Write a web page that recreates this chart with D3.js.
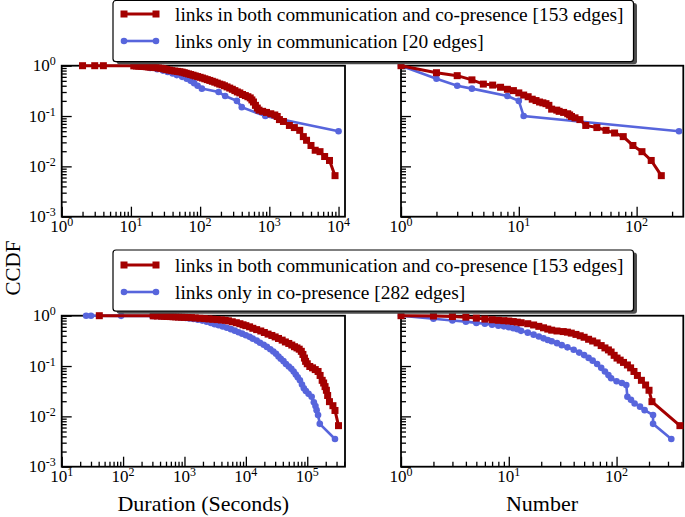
<!DOCTYPE html>
<html><head><meta charset="utf-8">
<script src="https://cdn.jsdelivr.net/npm/d3@7"></script>
<style>
body{margin:0;background:#fff}
svg{display:block}
text{font-family:"Liberation Serif","Times New Roman",serif;fill:#000}
</style>
</head><body>
<svg id="c" width="685" height="517" font-family="Liberation Serif, Times New Roman, serif"></svg>
<script>
// ---------- data (x, CCDF) ----------
const commDurBoth = [[2,1],[3,1],[4,1],[11,0.993],[12,0.987],[13,0.98],[14,0.974],[15,0.967],[16,0.961],[17,0.954],[18,0.948],[19,0.941],[21,0.928],[23,0.915],[25,0.902],[27,0.889],[29,0.876],[31,0.856],[33,0.837],[36,0.817],[39,0.797],[43,0.784],[47,0.771],[51,0.758],[55,0.745],[59,0.725],[63,0.706],[68,0.686],[73,0.667],[79,0.647],[85,0.627],[92,0.608],[100,0.588],[108,0.569],[117,0.549],[127,0.529],[138,0.51],[150,0.49],[163,0.471],[177,0.451],[192,0.431],[208,0.418],[225,0.399],[245,0.379],[268,0.359],[292,0.34],[318,0.32],[345,0.301],[375,0.288],[410,0.268],[450,0.255],[490,0.242],[530,0.229],[560,0.209],[590,0.19],[630,0.163],[670,0.144],[710,0.131],[800,0.124],[910,0.118],[1050,0.111],[1200,0.105],[1300,0.098],[1400,0.085],[1600,0.078],[1950,0.065],[2300,0.059],[2750,0.052],[3100,0.039],[3450,0.033],[4000,0.026],[4600,0.0209],[5400,0.0196],[6300,0.0157],[7400,0.0131],[8900,0.00654]];
const commDurOnly = [[12,1],[15,0.95],[19,0.9],[24,0.85],[29,0.8],[34,0.75],[40,0.7],[46,0.65],[55,0.6],[64,0.55],[73,0.5],[82,0.45],[92,0.4],[106,0.35],[185,0.3],[230,0.25],[340,0.2],[400,0.15],[875,0.1],[10000,0.05]];
const commNumBoth = [[1,1],[2,0.725],[3,0.634],[4,0.523],[5,0.431],[6,0.412],[7,0.373],[8,0.34],[9,0.32],[10,0.288],[11,0.261],[12,0.242],[13,0.216],[14,0.203],[15,0.19],[16,0.183],[17,0.176],[18,0.163],[19,0.137],[21,0.131],[22,0.124],[24,0.118],[26,0.111],[27,0.105],[28,0.098],[30,0.092],[33,0.085],[37,0.065],[46,0.059],[55,0.052],[65,0.046],[77,0.039],[93,0.026],[111,0.0196],[133,0.0131],[162,0.00654]];
const commNumOnly = [[1,1],[2,0.55],[3,0.4],[4,0.35],[8,0.25],[10,0.2],[11,0.1],[229,0.05]];
const copDurBoth = [[41,1],[310,0.993],[360,0.987],[425,0.98],[470,0.974],[520,0.967],[590,0.961],[650,0.954],[720,0.948],[800,0.941],[900,0.935],[1000,0.928],[1150,0.922],[1300,0.915],[1500,0.902],[1780,0.889],[2100,0.876],[2500,0.863],[2900,0.85],[3400,0.837],[4000,0.824],[4600,0.81],[5200,0.791],[6000,0.758],[7000,0.725],[8000,0.693],[9000,0.66],[10000,0.634],[11500,0.601],[13000,0.562],[15000,0.529],[17500,0.497],[20000,0.464],[23000,0.431],[26500,0.405],[30000,0.379],[34000,0.353],[39000,0.327],[44000,0.301],[50000,0.281],[56000,0.261],[62000,0.242],[68000,0.229],[74000,0.216],[80000,0.196],[85000,0.17],[90000,0.144],[94000,0.124],[100000,0.111],[110000,0.098],[122000,0.092],[135000,0.085],[150000,0.078],[162000,0.065],[175000,0.052],[185000,0.046],[195000,0.039],[205000,0.033],[215000,0.026],[230000,0.0196],[262000,0.0163],[283000,0.0131],[323000,0.00654]];
const copDurOnly = [[25,1],[30,0.996],[93,0.993],[300,0.989],[330,0.986],[380,0.982],[420,0.979],[470,0.975],[520,0.972],[580,0.965],[650,0.955],[730,0.945],[820,0.93],[920,0.915],[1050,0.9],[1200,0.88],[1400,0.86],[1650,0.83],[1950,0.8],[2300,0.76],[2700,0.72],[3100,0.68],[3600,0.645],[4200,0.61],[4900,0.575],[5700,0.54],[6600,0.505],[7600,0.47],[8700,0.44],[10000,0.41],[11500,0.38],[13000,0.35],[15000,0.32],[17000,0.29],[19500,0.265],[22000,0.24],[25000,0.215],[28000,0.195],[31000,0.175],[34000,0.155],[37000,0.14],[41000,0.125],[45000,0.11],[50000,0.098],[55000,0.088],[60000,0.078],[65000,0.068],[70000,0.06],[76000,0.052],[82000,0.043],[88000,0.036],[95000,0.032],[105000,0.028],[118000,0.0245],[128000,0.019],[136000,0.016],[142000,0.0133],[150000,0.0106],[160000,0.0071],[283000,0.00355]];
const copNumBoth = [[1,1],[2,0.987],[3,0.961],[4,0.935],[5,0.895],[6,0.856],[7,0.83],[8,0.81],[9,0.797],[10,0.784],[11,0.765],[12,0.745],[13,0.725],[15,0.693],[17,0.654],[19,0.614],[21,0.575],[23,0.542],[25,0.516],[28,0.497],[32,0.484],[35,0.471],[38,0.451],[42,0.425],[46,0.399],[50,0.373],[55,0.34],[60,0.314],[66,0.288],[72,0.255],[78,0.229],[84,0.209],[89,0.19],[95,0.163],[101,0.144],[108,0.131],[116,0.118],[126,0.105],[135,0.092],[145,0.078],[156,0.065],[170,0.052],[186,0.042],[200,0.033],[213,0.0196],[387,0.00654]];
const copNumOnly = [[1,1],[2,0.872],[3,0.805],[4,0.762],[5,0.72],[6,0.69],[7,0.66],[8,0.635],[9,0.615],[10,0.59],[11,0.565],[12,0.54],[13,0.5],[15,0.46],[17,0.42],[19,0.385],[21,0.355],[23,0.33],[25,0.31],[28,0.285],[31,0.26],[35,0.235],[40,0.21],[45,0.185],[50,0.165],[55,0.145],[60,0.128],[66,0.11],[72,0.092],[78,0.078],[84,0.066],[89,0.057],[100,0.05],[112,0.046],[123,0.042],[126,0.0245],[136,0.0213],[147,0.018],[165,0.0156],[182,0.0133],[218,0.0106],[218,0.0071],[322,0.00355]];

const legendCommLabels = ["links in both communication and co-presence [153 edges]", "links only in communication [20 edges]"];
const legendCopLabels = ["links in both communication and co-presence [153 edges]", "links only in co-presence [282 edges]"];
const xAxisTitles = ["Duration (Seconds)", "Number"];
const yAxisTitle = "CCDF";
const yTickExps = [0, -1, -2, -3];
const xTickExpsDurComm = [0, 1, 2, 3, 4];
const xTickExpsNumComm = [0, 1, 2];
const xTickExpsDurCop = [1, 2, 3, 4, 5];
const xTickExpsNumCop = [0, 1, 2];
const xDomDurComm = [1, 12400];
const xDomNumComm = [1, 249];
const xDomDurCop = [10, 412000];
const xDomNumCop = [1, 416];
const yDom = [0.001, 1];

// ---------- styling ----------
const RED = "#a40000", BLUE = "#5765dc";
const svg = d3.select("#c");

const panels = [
  {l:61.7, r:345,   t:65.7,  b:216.7, xd:xDomDurComm, xe:xTickExpsDurComm, both:commDurBoth, only:commDurOnly, ylab:true},
  {l:401,  r:683.3, t:65.7,  b:216.7, xd:xDomNumComm, xe:xTickExpsNumComm, both:commNumBoth, only:commNumOnly, ylab:false},
  {l:61.7, r:345,   t:315.7, b:466.7, xd:xDomDurCop,  xe:xTickExpsDurCop,  both:copDurBoth,  only:copDurOnly,  ylab:true},
  {l:401,  r:683.3, t:315.7, b:466.7, xd:xDomNumCop,  xe:xTickExpsNumCop,  both:copNumBoth,  only:copNumOnly,  ylab:false}
];

function minorTicks(dom){
  const out=[];
  const lo=Math.floor(Math.log10(dom[0])), hi=Math.ceil(Math.log10(dom[1]));
  for(let e=lo;e<=hi;e++) for(let m=2;m<=9;m++){const v=m*Math.pow(10,e); if(v>dom[0]&&v<dom[1]) out.push(v);}
  return out;
}

function powLabel(g, x, y, exp, anchor){
  const t = g.append("text").attr("x", x).attr("y", y).attr("text-anchor", anchor).attr("font-size", 17);
  t.append("tspan").text("10");
  t.append("tspan").attr("dy", -6).attr("font-size", 12).text(String(exp));
}

const SQ = 7;
panels.forEach(p => {
  const x = d3.scaleLog().domain(p.xd).range([p.l, p.r]);
  const y = d3.scaleLog().domain(yDom).range([p.b, p.t]);
  const g = svg.append("g");

  // ticks (inward)
  const xMaj = p.xe.map(e => Math.pow(10, e));
  const yMaj = yTickExps.map(e => Math.pow(10, e));
  const gx = g.append("g").attr("transform", `translate(0,${p.b})`);
  gx.call(d3.axisBottom(x).tickValues(xMaj).tickSize(-10).tickFormat(""));
  gx.append("g").call(d3.axisBottom(x).tickValues(minorTicks(p.xd)).tickSize(-5).tickFormat(""));
  const gy = g.append("g").attr("transform", `translate(${p.l},0)`);
  gy.call(d3.axisLeft(y).tickValues(yMaj).tickSize(-10).tickFormat(""));
  gy.append("g").call(d3.axisLeft(y).tickValues(minorTicks(yDom)).tickSize(-5).tickFormat(""));
  g.selectAll(".domain").remove();
  g.selectAll(".tick line").attr("stroke", "#000").attr("stroke-width", 1.3);

  // frame
  g.append("rect").attr("x", p.l).attr("y", p.t).attr("width", p.r - p.l).attr("height", p.b - p.t)
    .attr("fill", "none").attr("stroke", "#000").attr("stroke-width", 1.8);

  // tick labels
  p.xe.forEach(e => powLabel(g, x(Math.pow(10, e)), p.b + 15, e, "middle"));
  if (p.ylab) yTickExps.forEach(e => powLabel(g, p.l - 6, y(Math.pow(10, e)) + 5.5, e, "end"));

  // series
  const line = d3.line().x(d => x(d[0])).y(d => y(d[1]));
  g.append("path").datum(p.only).attr("d", line).attr("fill", "none").attr("stroke", BLUE).attr("stroke-width", 2.6);
  g.selectAll(null).data(p.only).enter().append("circle")
    .attr("cx", d => x(d[0])).attr("cy", d => y(d[1])).attr("r", 3.3).attr("fill", BLUE);
  g.append("path").datum(p.both).attr("d", line).attr("fill", "none").attr("stroke", RED).attr("stroke-width", 3);
  g.selectAll(null).data(p.both).enter().append("rect")
    .attr("x", d => x(d[0]) - SQ/2).attr("y", d => y(d[1]) - SQ/2).attr("width", SQ).attr("height", SQ).attr("fill", RED);
});

// axis titles
svg.append("text").attr("x", 203.3).attr("y", 511).attr("text-anchor", "middle").attr("font-size", 22).text(xAxisTitles[0]);
svg.append("text").attr("x", 542).attr("y", 511).attr("text-anchor", "middle").attr("font-size", 22).text(xAxisTitles[1]);
svg.append("text").attr("transform", "translate(20,268) rotate(-90)").attr("text-anchor", "middle").attr("font-size", 21).text(yAxisTitle);

// legends
function legend(top, labels, lineY, textY){
  const g = svg.append("g");
  const bx = 113, bw = 520.5, bh = 61.2;
  g.append("rect").attr("x", bx + 3.5).attr("y", top + 2.5).attr("width", bw).attr("height", bh).attr("rx", 3).attr("fill", "#4d4d4d");
  g.append("rect").attr("x", bx).attr("y", top).attr("width", bw).attr("height", bh).attr("rx", 3)
    .attr("fill", "#fff").attr("stroke", "#000").attr("stroke-width", 1.2);
  const cols = [RED, BLUE];
  labels.forEach((lab, i) => {
    const ly = lineY[i];
    g.append("line").attr("x1", 124).attr("x2", 156).attr("y1", ly).attr("y2", ly)
      .attr("stroke", cols[i]).attr("stroke-width", i ? 2.6 : 3);
    [124, 156].forEach(cx => {
      if (i === 0) g.append("rect").attr("x", cx - SQ/2).attr("y", ly - SQ/2).attr("width", SQ).attr("height", SQ).attr("fill", RED);
      else g.append("circle").attr("cx", cx).attr("cy", ly).attr("r", 3.3).attr("fill", BLUE);
    });
    g.append("text").attr("x", 175).attr("y", textY[i]).attr("font-size", 19.4).text(lab);
  });
}
legend(0.5, legendCommLabels, [14, 41], [21, 48]);
legend(250, legendCopLabels, [265, 292], [272, 299]);
</script>
</body></html>
